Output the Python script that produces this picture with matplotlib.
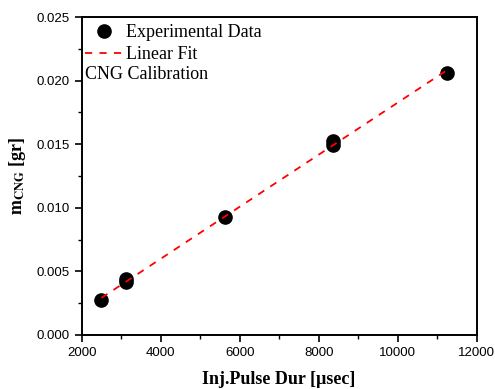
import numpy as np
import matplotlib
matplotlib.use("Agg")
import matplotlib.pyplot as plt
from matplotlib.ticker import MultipleLocator

plt.rcParams['mathtext.fontset'] = 'stix'

# injection pulse duration [usec] and CNG mass [gr]
pulse = [2500, 3120, 3130, 5630, 8360, 8370, 11240]
mass = [0.00271, 0.00415, 0.00438, 0.00927, 0.01493, 0.01525, 0.0206]

# linear fit of the data
k, b = np.polyfit(pulse, mass, 1)
x_fit = np.array([min(pulse), max(pulse)])
y_fit = k * x_fit + b

fig = plt.figure(figsize=(4.95, 3.89), dpi=100)
ax = fig.add_axes([0.165, 0.139, 0.798, 0.817])

ax.plot(pulse, mass, 'o', color='black', markersize=9.5, label='Experimental Data', zorder=3)
ax.plot(x_fit, y_fit, '--', color='red', linewidth=1.3, dashes=(4, 4), label='Linear Fit', zorder=4)

ax.set_xlim(2000, 12000)
ax.set_ylim(0, 0.025)
ax.xaxis.set_major_locator(MultipleLocator(2000))
ax.xaxis.set_minor_locator(MultipleLocator(1000))
ax.yaxis.set_major_locator(MultipleLocator(0.005))
ax.yaxis.set_minor_locator(MultipleLocator(0.0025))
ax.yaxis.set_major_formatter(plt.FormatStrFormatter('%.3f'))
ax.tick_params(which='major', direction='out', length=5, width=1.2, labelsize=9.5)
ax.tick_params(which='minor', direction='out', length=3, width=1.0)
for lab in ax.get_xticklabels() + ax.get_yticklabels():
    lab.set_fontfamily('Liberation Sans')
for s in ax.spines.values():
    s.set_linewidth(1.4)

ax.set_xlabel('Inj.Pulse Dur [\u00b5sec]', fontfamily='Liberation Serif', fontweight='bold', fontsize=13)
ax.set_ylabel(r'$\mathbf{m_{CNG}}$ [gr]', fontfamily='Liberation Serif', fontweight='bold', fontsize=13)
ax.xaxis.set_label_coords(0.5, -0.113)
ax.yaxis.set_label_coords(-0.136, 0.5)

leg = ax.legend(loc='upper left', bbox_to_anchor=(-0.01, 1.0), frameon=False,
                prop={'family': 'Liberation Serif', 'size': 13},
                handlelength=2.1, handletextpad=0.15, borderaxespad=0.1, labelspacing=0.25,
                borderpad=0.3)
ax.text(0.008, 0.818, 'CNG Calibration', transform=ax.transAxes, fontfamily='Liberation Serif',
        fontsize=13, va='center', ha='left')

fig.savefig('out.png', dpi=100)
